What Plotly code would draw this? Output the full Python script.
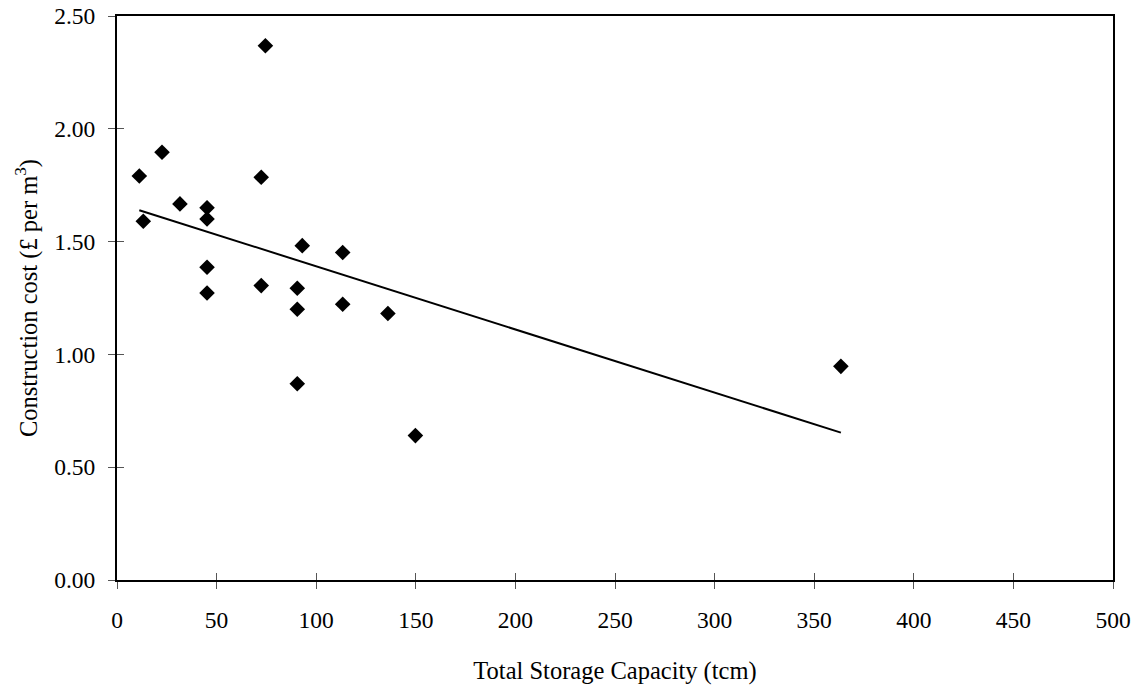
import numpy as np
import plotly.graph_objects as go

# Data
capacity_tcm = [74.5, 22.6, 11.2, 72.4, 31.6, 45.2, 45.2, 13.2, 93.0, 113.3,
                45.2, 72.4, 45.2, 90.5, 90.5, 113.3, 136.0, 90.5, 149.8, 363.4]
cost_per_m3 = [2.368, 1.896, 1.791, 1.785, 1.667, 1.650, 1.600, 1.590, 1.482, 1.452,
               1.386, 1.305, 1.272, 1.293, 1.200, 1.222, 1.181, 0.870, 0.640, 0.947]

x_ticks = [0, 50, 100, 150, 200, 250, 300, 350, 400, 450, 500]
y_ticks = [0.0, 0.5, 1.0, 1.5, 2.0, 2.5]

# Linear trend line (least squares) across the data range
xs = np.array(capacity_tcm)
ys = np.array(cost_per_m3)
slope, intercept = np.polyfit(xs, ys, 1)
trend_x = [xs.min(), xs.max()]
trend_y = [slope * v + intercept for v in trend_x]

FONT = "Liberation Serif, Times New Roman, serif"
FS = 23.5

fig = go.Figure()
fig.add_trace(go.Scatter(
    x=trend_x, y=trend_y, mode="lines",
    line=dict(color="black", width=2), showlegend=False, hoverinfo="skip"))
fig.add_trace(go.Scatter(
    x=capacity_tcm, y=cost_per_m3, mode="markers",
    marker=dict(symbol="diamond", size=12, color="black"),
    showlegend=False))

axis_common = dict(showgrid=False, zeroline=False, showline=True, mirror=True,
                   linecolor="black", linewidth=2, ticks="outside", ticklen=7,
                   tickcolor="#555555", tickwidth=1, automargin=False,
                   tickfont=dict(family=FONT, size=FS, color="black"))

fig.update_layout(
    width=1138, height=688,
    margin=dict(l=117, r=25, t=16, b=108),
    paper_bgcolor="white", plot_bgcolor="white",
    font=dict(family=FONT, size=FS, color="black"),
    xaxis=dict(range=[0, 500], tickvals=x_ticks, ticktext=[str(v) for v in x_ticks],
               ticklabelstandoff=11,
               title=dict(text="Total Storage Capacity (tcm)", standoff=30,
                          font=dict(family=FONT, size=24.5)),
               **axis_common),
    yaxis=dict(range=[0, 2.5], tickvals=y_ticks, ticktext=[f"{v:.2f}" for v in y_ticks],
               ticklabelstandoff=8,
               title=dict(text="Construction cost (£ per m<sup>3</sup>)", standoff=10,
                          font=dict(family=FONT, size=24.5)),
               **axis_common),
    xaxis2=dict(overlaying="x", matches="x", side="bottom", range=[0, 500],
                tickvals=x_ticks, showticklabels=False, ticks="inside", ticklen=7,
                tickcolor="#555555", tickwidth=1, showline=False, showgrid=False,
                zeroline=False, automargin=False),
    yaxis2=dict(overlaying="y", matches="y", side="left", range=[0, 2.5],
                tickvals=y_ticks, showticklabels=False, ticks="inside", ticklen=7,
                tickcolor="#555555", tickwidth=1, showline=False, showgrid=False,
                zeroline=False, automargin=False),
)
# invisible trace to make the overlay axes render
fig.add_trace(go.Scatter(x=[None], y=[None], xaxis="x2", yaxis="y2",
                         showlegend=False, hoverinfo="skip"))

fig.write_html("out.html")
